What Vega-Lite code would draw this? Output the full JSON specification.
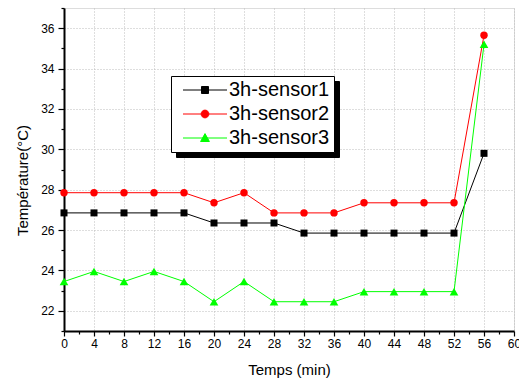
{
  "$schema": "https://vega.github.io/schema/vega-lite/v6.json",
  "width": 450,
  "height": 323,
  "autosize": {"type": "none"},
  "padding": {"left": 64, "top": 8, "right": 5, "bottom": 52},
  "background": "white",
  "data": {
    "values": [
      {"t": 0, "temp": 26.85, "series": "3h-sensor1"},
      {"t": 4, "temp": 26.85, "series": "3h-sensor1"},
      {"t": 8, "temp": 26.85, "series": "3h-sensor1"},
      {"t": 12, "temp": 26.85, "series": "3h-sensor1"},
      {"t": 16, "temp": 26.85, "series": "3h-sensor1"},
      {"t": 20, "temp": 26.35, "series": "3h-sensor1"},
      {"t": 24, "temp": 26.35, "series": "3h-sensor1"},
      {"t": 28, "temp": 26.35, "series": "3h-sensor1"},
      {"t": 32, "temp": 25.85, "series": "3h-sensor1"},
      {"t": 36, "temp": 25.85, "series": "3h-sensor1"},
      {"t": 40, "temp": 25.85, "series": "3h-sensor1"},
      {"t": 44, "temp": 25.85, "series": "3h-sensor1"},
      {"t": 48, "temp": 25.85, "series": "3h-sensor1"},
      {"t": 52, "temp": 25.85, "series": "3h-sensor1"},
      {"t": 56, "temp": 29.8, "series": "3h-sensor1"},
      {"t": 0, "temp": 27.85, "series": "3h-sensor2"},
      {"t": 4, "temp": 27.85, "series": "3h-sensor2"},
      {"t": 8, "temp": 27.85, "series": "3h-sensor2"},
      {"t": 12, "temp": 27.85, "series": "3h-sensor2"},
      {"t": 16, "temp": 27.85, "series": "3h-sensor2"},
      {"t": 20, "temp": 27.35, "series": "3h-sensor2"},
      {"t": 24, "temp": 27.85, "series": "3h-sensor2"},
      {"t": 28, "temp": 26.85, "series": "3h-sensor2"},
      {"t": 32, "temp": 26.85, "series": "3h-sensor2"},
      {"t": 36, "temp": 26.85, "series": "3h-sensor2"},
      {"t": 40, "temp": 27.35, "series": "3h-sensor2"},
      {"t": 44, "temp": 27.35, "series": "3h-sensor2"},
      {"t": 48, "temp": 27.35, "series": "3h-sensor2"},
      {"t": 52, "temp": 27.35, "series": "3h-sensor2"},
      {"t": 56, "temp": 35.65, "series": "3h-sensor2"},
      {"t": 0, "temp": 23.45, "series": "3h-sensor3"},
      {"t": 4, "temp": 23.95, "series": "3h-sensor3"},
      {"t": 8, "temp": 23.45, "series": "3h-sensor3"},
      {"t": 12, "temp": 23.95, "series": "3h-sensor3"},
      {"t": 16, "temp": 23.45, "series": "3h-sensor3"},
      {"t": 20, "temp": 22.45, "series": "3h-sensor3"},
      {"t": 24, "temp": 23.45, "series": "3h-sensor3"},
      {"t": 28, "temp": 22.45, "series": "3h-sensor3"},
      {"t": 32, "temp": 22.45, "series": "3h-sensor3"},
      {"t": 36, "temp": 22.45, "series": "3h-sensor3"},
      {"t": 40, "temp": 22.95, "series": "3h-sensor3"},
      {"t": 44, "temp": 22.95, "series": "3h-sensor3"},
      {"t": 48, "temp": 22.95, "series": "3h-sensor3"},
      {"t": 52, "temp": 22.95, "series": "3h-sensor3"},
      {"t": 56, "temp": 35.2, "series": "3h-sensor3"}
    ]
  },
  "encoding": {
    "x": {
      "field": "t",
      "type": "quantitative",
      "scale": {"domain": [0, 60], "nice": false, "zero": false},
      "axis": {
        "title": "Temps (min)",
        "values": [0, 2, 4, 6, 8, 10, 12, 14, 16, 18, 20, 22, 24, 26, 28, 30, 32, 34, 36, 38, 40, 42, 44, 46, 48, 50, 52, 54, 56, 58, 60],
        "labelExpr": "datum.value % 4 === 0 ? datum.label : ''",
        "labelFlush": false,
        "labelOverlap": false,
        "labelFont": "Liberation Sans",
        "labelFontSize": 12,
        "labelColor": "black",
        "labelPadding": 2,
        "tickSize": {"condition": {"test": "datum.value % 4 === 0", "value": 5}, "value": 3},
        "tickColor": "black",
        "tickWidth": 1.2,
        "domainColor": "black",
        "domainWidth": 2,
        "grid": true,
        "gridColor": "#bdbdbd",
        "gridDash": [1, 2],
        "gridWidth": 1,
        "gridOpacity": {"condition": {"test": "datum.value % 4 === 0", "value": 1}, "value": 0},
        "titleFont": "Liberation Sans",
        "titleFontSize": 15,
        "titleFontWeight": "normal",
        "titleColor": "black",
        "titlePadding": 13
      }
    },
    "y": {
      "field": "temp",
      "type": "quantitative",
      "scale": {"domain": [21, 37], "nice": false, "zero": false},
      "axis": {
        "title": "Température(°C)",
        "values": [21, 22, 23, 24, 25, 26, 27, 28, 29, 30, 31, 32, 33, 34, 35, 36, 37],
        "labelExpr": "datum.value % 2 === 0 ? datum.label : ''",
        "labelFlush": false,
        "labelOverlap": false,
        "labelFont": "Liberation Sans",
        "labelFontSize": 12,
        "labelColor": "black",
        "labelPadding": 4,
        "tickSize": {"condition": {"test": "datum.value % 2 === 0", "value": 6}, "value": 3},
        "tickColor": "black",
        "tickWidth": 1.2,
        "domainColor": "black",
        "domainWidth": 2,
        "grid": true,
        "gridColor": "#bdbdbd",
        "gridDash": [1, 2],
        "gridWidth": 1,
        "gridOpacity": {"condition": {"test": "datum.value % 2 === 0", "value": 1}, "value": 0},
        "titleFont": "Liberation Sans",
        "titleFontSize": 15,
        "titleFontWeight": "normal",
        "titleColor": "black",
        "titlePadding": 10,
        "titleY": 172
      }
    }
  },
  "layer": [
    {
      "mark": {"type": "line", "strokeWidth": 1},
      "encoding": {
        "color": {
          "field": "series",
          "type": "nominal",
          "scale": {"range": ["#000000", "#ff0000", "#00ff00"]},
          "legend": {
            "orient": "none",
            "legendX": 107,
            "legendY": 68,
            "direction": "vertical",
            "title": null,
            "zindex": 2,
            "fillColor": "white",
            "strokeColor": "black",
            "padding": 4,
            "rowPadding": 4,
            "symbolSize": 100,
            "symbolOffset": 20,
            "symbolStrokeWidth": 1,
            "labelOffset": 14,
            "labelFont": "Liberation Sans",
            "labelFontSize": 20,
            "labelColor": "black",
            "labelLimit": 300,
            "labelExpr": "datum.label + '  '",
            "encode": {
              "symbols": {
                "update": {
                  "shape": {"signal": "datum.value === '3h-sensor1' ? 'M-4.4,0H4.4M-0.7,-0.7H0.7V0.7H-0.7Z' : datum.value === '3h-sensor2' ? 'M-4.4,0H4.4M-0.78,0A0.78,0.78 0 1,0 0.78,0A0.78,0.78 0 1,0 -0.78,0Z' : 'M-4.4,0H4.4M0,-0.88L0.88,0.7L-0.88,0.7Z'"},
                  "size": {"value": 100},
                  "fill": {"scale": "color", "field": "value"},
                  "stroke": {"scale": "color", "field": "value"},
                  "strokeWidth": {"value": 1},
                  "opacity": {"value": 1}
                }
              }
            }
          }
        },
        "opacity": {
          "field": "series",
          "type": "nominal",
          "scale": {"domain": ["3h-sensor1", "3h-sensor2", "3h-sensor3"], "range": [1, 1, 1]},
          "legend": {
            "orient": "none",
            "legendX": 112,
            "legendY": 73,
            "direction": "vertical",
            "title": null,
            "zindex": 1,
            "fillColor": "black",
            "strokeColor": "black",
            "padding": 4,
            "rowPadding": 4,
            "symbolType": "M-4.4,0H4.4M-0.7,-0.7H0.7V0.7H-0.7Z",
            "symbolSize": 100,
            "symbolOffset": 20,
            "symbolStrokeWidth": 1,
            "symbolStrokeColor": "black",
            "symbolFillColor": "black",
            "labelOffset": 14,
            "labelFont": "Liberation Sans",
            "labelFontSize": 20,
            "labelColor": "black",
            "labelLimit": 300,
            "labelExpr": "datum.label + '  '"
          }
        }
      }
    },
    {
      "transform": [{"filter": "datum.series === '3h-sensor1'"}],
      "mark": {"type": "point", "filled": true, "shape": "square", "size": 49, "color": "#000000", "opacity": 1}
    },
    {
      "transform": [{"filter": "datum.series === '3h-sensor2'"}],
      "mark": {"type": "point", "filled": true, "shape": "circle", "size": 55, "color": "#ff0000", "opacity": 1}
    },
    {
      "transform": [{"filter": "datum.series === '3h-sensor3'"}],
      "mark": {"type": "point", "filled": true, "shape": "triangle-up", "size": 75, "color": "#00ff00", "opacity": 1}
    }
  ]
}
